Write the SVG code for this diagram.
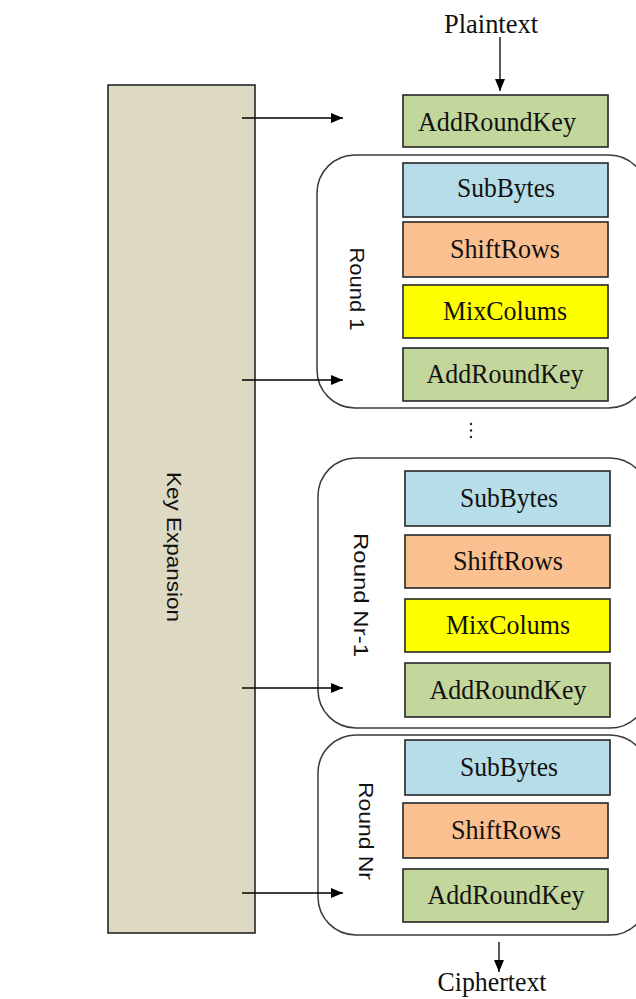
<svg xmlns="http://www.w3.org/2000/svg" width="636" height="999" viewBox="0 0 636 999">
<style>
.box{stroke:#262626;stroke-width:1.6}
.sb{fill:#b7dde8}.sr{fill:#fac090}.mc{fill:#ffff00}.ark{fill:#c3d69b}
.cont{fill:none;stroke:#3a3a3a;stroke-width:1.5}
.lbl{font-family:"Liberation Serif","Times New Roman",serif;font-size:27px;fill:#111;text-anchor:middle}
.vl{font-family:"Liberation Sans",Arial,sans-serif;font-size:20px;fill:#111;text-anchor:middle;dominant-baseline:central}
.conn{stroke:#000;stroke-width:1.3;fill:none}
</style>
<defs>
<marker id="ah" viewBox="0 0 12 10" refX="12" refY="5" markerWidth="12" markerHeight="10" markerUnits="userSpaceOnUse" orient="auto">
<path d="M0,0 L12,5 L0,10 Z" fill="#000"/>
</marker>
</defs>
<rect width="636" height="999" fill="#fff"/>

<g id="key-expansion">
<rect x="108" y="85" width="147" height="848" fill="#ddd9c3" stroke="#262626" stroke-width="1.6"/>
<text class="vl" x="174" y="547" transform="rotate(90 174 547)" textLength="150" lengthAdjust="spacingAndGlyphs">Key Expansion</text>
</g>

<g id="plaintext"><text class="lbl" x="491" y="33" textLength="94" lengthAdjust="spacingAndGlyphs">Plaintext</text></g>

<g id="initial-addroundkey">
<rect class="box ark" x="403" y="95" width="205" height="52"/>
<text class="lbl" x="497" y="131" textLength="158" lengthAdjust="spacingAndGlyphs">AddRoundKey</text>
</g>

<g id="round1">
<rect class="cont" x="317" y="155" width="330" height="253" rx="38"/>
<text class="vl" x="357" y="289" transform="rotate(90 357 289)" textLength="83" lengthAdjust="spacingAndGlyphs">Round 1</text>
<g id="r1-subbytes"><rect class="box sb" x="403" y="163" width="205" height="54"/><text class="lbl" x="506" y="197" textLength="98" lengthAdjust="spacingAndGlyphs">SubBytes</text></g>
<g id="r1-shiftrows"><rect class="box sr" x="403" y="222" width="205" height="55"/><text class="lbl" x="505" y="258" textLength="110" lengthAdjust="spacingAndGlyphs">ShiftRows</text></g>
<g id="r1-mixcolums"><rect class="box mc" x="403" y="285" width="205" height="53"/><text class="lbl" x="505" y="320" textLength="124" lengthAdjust="spacingAndGlyphs">MixColums</text></g>
<g id="r1-addroundkey"><rect class="box ark" x="403" y="348" width="205" height="53"/><text class="lbl" x="505" y="383" textLength="157" lengthAdjust="spacingAndGlyphs">AddRoundKey</text></g>
</g>

<g id="ellipsis"><circle cx="471" cy="424" r="1.2" fill="#222"/><circle cx="471" cy="430.5" r="1.2" fill="#222"/><circle cx="471" cy="437" r="1.2" fill="#222"/></g>

<g id="roundNr-1">
<rect class="cont" x="318" y="458" width="330" height="270" rx="38"/>
<text class="vl" x="361" y="595" transform="rotate(90 361 595)" textLength="124" lengthAdjust="spacingAndGlyphs">Round  Nr-1</text>
<g id="rn1-subbytes"><rect class="box sb" x="405" y="471" width="205" height="55"/><text class="lbl" x="509" y="507" textLength="98" lengthAdjust="spacingAndGlyphs">SubBytes</text></g>
<g id="rn1-shiftrows"><rect class="box sr" x="405" y="535" width="205" height="53"/><text class="lbl" x="508" y="570" textLength="110" lengthAdjust="spacingAndGlyphs">ShiftRows</text></g>
<g id="rn1-mixcolums"><rect class="box mc" x="405" y="599" width="205" height="53"/><text class="lbl" x="508" y="634" textLength="124" lengthAdjust="spacingAndGlyphs">MixColums</text></g>
<g id="rn1-addroundkey"><rect class="box ark" x="405" y="663" width="205" height="54"/><text class="lbl" x="508" y="699" textLength="157" lengthAdjust="spacingAndGlyphs">AddRoundKey</text></g>
</g>

<g id="roundNr">
<rect class="cont" x="318" y="735" width="330" height="200" rx="38"/>
<text class="vl" x="366" y="831" transform="rotate(90 366 831)" textLength="98" lengthAdjust="spacingAndGlyphs">Round Nr</text>
<g id="rn-subbytes"><rect class="box sb" x="405" y="740" width="205" height="55"/><text class="lbl" x="509" y="776" textLength="98" lengthAdjust="spacingAndGlyphs">SubBytes</text></g>
<g id="rn-shiftrows"><rect class="box sr" x="403" y="803" width="205" height="55"/><text class="lbl" x="506" y="839" textLength="110" lengthAdjust="spacingAndGlyphs">ShiftRows</text></g>
<g id="rn-addroundkey"><rect class="box ark" x="403" y="869" width="205" height="53"/><text class="lbl" x="506" y="904" textLength="157" lengthAdjust="spacingAndGlyphs">AddRoundKey</text></g>
</g>

<g id="ciphertext"><text class="lbl" x="492" y="991" font-size="26" textLength="109" lengthAdjust="spacingAndGlyphs">Ciphertext</text></g>

<g id="connectors">
<line class="conn" x1="500" y1="37" x2="500" y2="91" marker-end="url(#ah)"/>
<line class="conn" x1="242" y1="118" x2="343" y2="118" marker-end="url(#ah)"/>
<line class="conn" x1="242" y1="380" x2="343" y2="380" marker-end="url(#ah)"/>
<line class="conn" x1="242" y1="688" x2="343" y2="688" marker-end="url(#ah)"/>
<line class="conn" x1="242" y1="893" x2="343" y2="893" marker-end="url(#ah)"/>
<line class="conn" x1="499" y1="942" x2="499" y2="972" marker-end="url(#ah)"/>
</g>
</svg>
